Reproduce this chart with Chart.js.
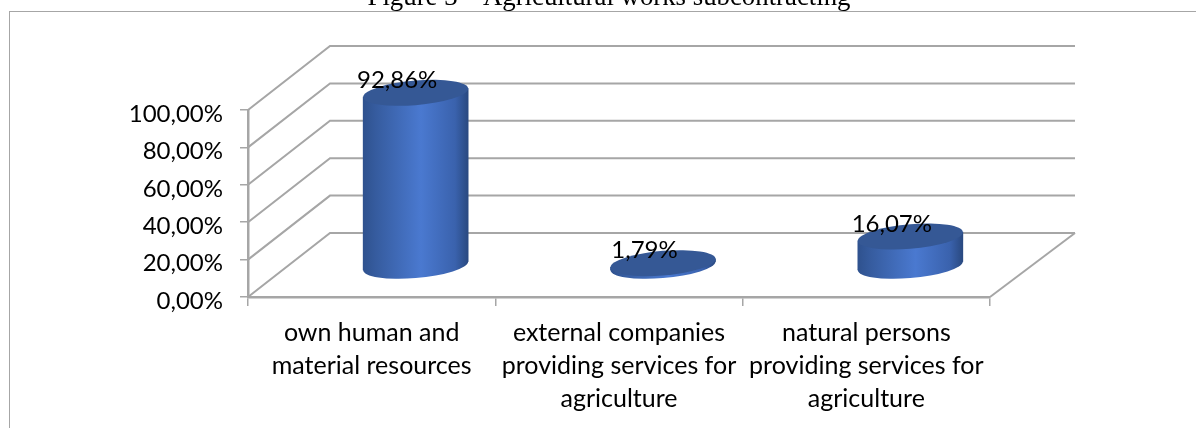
<!DOCTYPE html>
<html lang="en">
<head>
    <meta charset="UTF-8">
    <title>Figure 3 – Agricultural works subcontracting</title>
    <script src="https://cdn.jsdelivr.net/npm/chart.js"></script>
    <style>
        html, body { margin: 0; padding: 0; background: #fff; overflow: hidden; }
        #wrap { position: relative; width: 1196px; height: 428px; overflow: hidden; }
        #frame { position: absolute; left: 9px; top: 11px; width: 1300px; height: 600px; border: 1px solid #a6a6a6; }
        #title { position: absolute; left: 0; top: -19px; width: 1218px; text-align: center; font: 26.8px "Liberation Serif", serif; color: #000; white-space: nowrap; }
        #chartFig { position: absolute; left: 0; top: 0; }
    </style>
</head>
<body>
    <div id="wrap">
        <div id="frame"></div>
        <canvas id="chartFig" width="1196" height="428"></canvas>
        <div id="title">Figure 3 – Agricultural works subcontracting</div>
    </div>

    <script>
        // Data
        const categories = [
            ['own human and', 'material resources'],
            ['external companies', 'providing services for', 'agriculture'],
            ['natural persons', 'providing services for', 'agriculture']
        ];
        const values = [92.86, 1.79, 16.07];
        const yTicks = [0, 20, 40, 60, 80, 100];

        const GRID = '#a6a6a6';
        const LABEL_FONT = '24px Lato, "Open Sans", sans-serif';

        const fmt = (v) => v.toFixed(2).replace('.', ',') + '%';

        // Gradient across one cylinder
        const sideGradient = (c) => {
            const x = c.chart.scales.x.getPixelForValue(c.dataIndex);
            if (!Number.isFinite(x)) return '#4a79d0'; // scale not laid out yet
            const g = c.chart.ctx.createLinearGradient(x - 52, 0, x + 52, 0);
            g.addColorStop(0, '#2f528f');
            g.addColorStop(0.12, '#365c9f');
            g.addColorStop(0.55, '#4a79d0');
            g.addColorStop(0.88, '#3a62ad');
            g.addColorStop(1, '#2a4a82');
            return g;
        };

        // Walls and floor of the 3D box, from the axis scales
        const wallsPlugin = {
            id: 'walls',
            beforeDatasetsDraw(chart) {
                const { ctx, chartArea: a, scales: { y } } = chart;
                const dx = 82, dy = -64;
                ctx.save();
                ctx.strokeStyle = GRID;
                ctx.lineWidth = 2;
                yTicks.forEach((t) => {
                    const py = y.getPixelForValue(t);
                    ctx.beginPath();
                    ctx.moveTo(a.left, py);
                    ctx.lineTo(a.left + dx, py + dy);
                    ctx.lineTo(a.right + 85, py + dy);
                    ctx.stroke();
                });
                ctx.beginPath();
                ctx.moveTo(a.right, a.bottom);
                ctx.lineTo(a.right + 85, a.bottom + dy);
                ctx.stroke();
                ctx.restore();
            }
        };

        // Draws each bar pushed into the box and sheared, with elliptical ends
        const cylinderPlugin = {
            id: 'cylinder',
            beforeDatasetDraw(chart, args) {
                const { ctx } = chart;
                const shear = -8.5 / 105, ry = 12.3;
                args.meta.data.forEach((bar) => {
                    const fill = bar.options.backgroundColor;
                    ctx.save();
                    ctx.translate(44, -30.5);
                    ctx.transform(1, shear, 0, 1, 0, -shear * bar.x);
                    ctx.fillStyle = fill;
                    ctx.beginPath();
                    ctx.ellipse(bar.x, bar.base, bar.width / 2, ry, 0, 0, Math.PI * 2);
                    ctx.fill();
                    bar.draw(ctx);
                    ctx.fillStyle = '#355895';
                    ctx.beginPath();
                    ctx.ellipse(bar.x, bar.y, bar.width / 2, ry, 0, 0, Math.PI * 2);
                    ctx.fill();
                    ctx.restore();
                });
                return false;
            },
            afterDatasetsDraw(chart) {
                const { ctx } = chart;
                const bars = chart.getDatasetMeta(0).data;
                ctx.save();
                ctx.font = LABEL_FONT;
                ctx.fillStyle = '#000';
                ctx.textAlign = 'center';
                ctx.textBaseline = 'middle';
                bars.forEach((bar, i) => {
                    ctx.fillText(fmt(values[i]), bar.x + 25.5, bar.y - 43);
                });
                ctx.restore();
            }
        };

        new Chart(document.getElementById('chartFig').getContext('2d'), {
            type: 'bar',
            data: {
                labels: categories,
                datasets: [{
                    data: values,
                    backgroundColor: sideGradient,
                    borderWidth: 0,
                    barThickness: 105
                }]
            },
            options: {
                responsive: false,
                animation: false,
                layout: { padding: { top: 110, right: 206, left: 0, bottom: 0 } },
                plugins: { legend: { display: false }, tooltip: { enabled: false } },
                scales: {
                    x: {
                        afterFit: (s) => { s.height = 131; },
                        grid: { drawOnChartArea: false, color: GRID, tickLength: 9, lineWidth: 1.5 },
                        border: { color: GRID, width: 2.5 },
                        ticks: {
                            maxRotation: 0,
                            autoSkip: false,
                            padding: 10,
                            color: '#000',
                            font: { family: 'Lato, "Open Sans", sans-serif', size: 25, lineHeight: '33px' }
                        }
                    },
                    y: {
                        min: 0,
                        max: 100,
                        afterFit: (s) => { s.width = 248; },
                        afterBuildTicks: (s) => { s.ticks = yTicks.map((v) => ({ value: v })); },
                        grid: { drawOnChartArea: false, color: GRID, tickLength: 8, lineWidth: 1.5 },
                        border: { color: GRID, width: 2.5 },
                        ticks: {
                            padding: 17,
                            labelOffset: 4,
                            color: '#000',
                            font: { family: 'Lato, "Open Sans", sans-serif', size: 24 },
                            callback: (v) => fmt(v)
                        }
                    }
                }
            },
            plugins: [wallsPlugin, cylinderPlugin]
        });
    </script>
</body>
</html>
